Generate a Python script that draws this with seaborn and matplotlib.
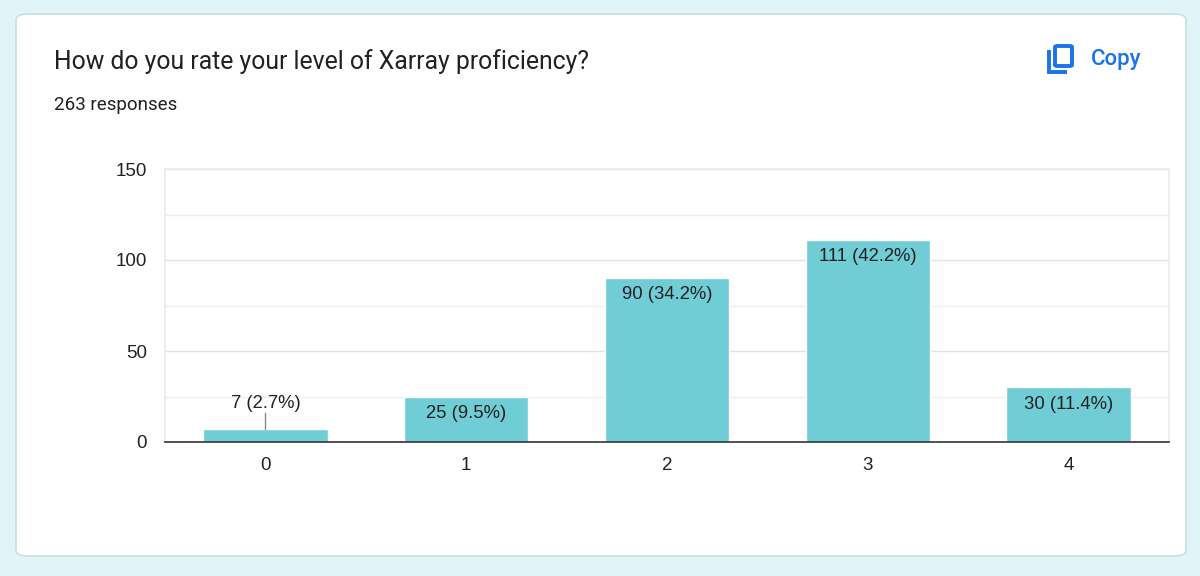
import matplotlib
matplotlib.use("Agg")
import matplotlib.pyplot as plt
from matplotlib.patches import FancyBboxPatch
from matplotlib.lines import Line2D
import seaborn as sns
import pandas as pd

categories = ["0", "1", "2", "3", "4"]
counts = [7, 25, 90, 111, 30]
percents = ["2.7%", "9.5%", "34.2%", "42.2%", "11.4%"]
yticks = [0, 50, 100, 150]

sns.set_theme(style="white")
plt.rcParams['font.family'] = ['Liberation Sans', 'DejaVu Sans']

fig = plt.figure(figsize=(12, 5.76), dpi=100)
fig.patch.set_facecolor("#e1f5f9")

card = FancyBboxPatch((16 / 1200, 1 - 556 / 576), 1170 / 1200, 542 / 576,
                      boxstyle="round,pad=0,rounding_size=0.01",
                      transform=fig.transFigure, facecolor="white",
                      edgecolor="#c9dfe3", linewidth=1.2, zorder=-10)
fig.patches.append(card)

fig.text(54 / 1200, 1 - 62 / 576, "How do you rate your level of Xarray proficiency?",
         fontsize=17.8, color="#202124", va="center", ha="left",
         family=["Roboto", "DejaVu Sans"])
fig.text(54 / 1200, 1 - 105 / 576, "263 responses", fontsize=13.5,
         color="#202124", va="center", ha="left", family=["Roboto", "DejaVu Sans"])
fig.text(1091 / 1200, 1 - 60 / 576, "Copy", fontsize=16, color="#1a73e8",
         va="center", ha="left", fontweight="medium", family=["Roboto", "DejaVu Sans"])
# copy icon
fig.patches.append(FancyBboxPatch((1055 / 1200, 1 - 66 / 576), 17 / 1200, 20 / 576,
                                  boxstyle="round,pad=0,rounding_size=0.002",
                                  transform=fig.transFigure, facecolor="none",
                                  edgecolor="#1a73e8", linewidth=2.8))
fig.lines.append(Line2D([1049 / 1200, 1049 / 1200, 1067 / 1200],
                        [1 - 50 / 576, 1 - 72 / 576, 1 - 72 / 576],
                        transform=fig.transFigure, color="#1a73e8", linewidth=2.8,
                        solid_joinstyle="miter", solid_capstyle="butt"))

ax = fig.add_axes([165 / 1200, 1 - 442 / 576, 1004 / 1200, 273 / 576])
ax.set_facecolor("white")
df = pd.DataFrame({"category": categories, "count": counts})
sns.barplot(data=df, x="category", y="count", color="#70cdd6", saturation=1,
            width=0.62, ax=ax, zorder=3)
ax.set_xlim(-0.5, 4.5)
ax.set_ylim(0, 150)
ax.set_yticks(yticks)
for y in [25, 50, 75, 100, 125, 150]:
    ax.axhline(y, color="#efefef" if y % 50 else "#e3e3e3", linewidth=1, zorder=1)
ax.set_xlabel("")
ax.set_ylabel("")
for s in ["top", "right", "left"]:
    ax.spines[s].set_color("#ececec")
ax.spines["bottom"].set_color("#333333")
ax.spines["bottom"].set_linewidth(1.2)
ax.spines["bottom"].set_zorder(4)
ax.tick_params(axis="both", length=0, labelsize=13.5, colors="#222222", pad=11)
ax.tick_params(axis="y", pad=13)

for i, (c, p) in enumerate(zip(counts, percents)):
    label = f"{c} ({p})"
    if c >= 20:
        ax.text(i, c - 4.5, label, ha="center", va="top", fontsize=13.3,
                color="#222222", zorder=5)
    else:
        ax.plot([i, i], [c, c + 9], color="#888888", linewidth=1, zorder=4)
        ax.text(i, c + 9.5, label, ha="center", va="bottom", fontsize=13.3,
                color="#222222", zorder=5)

fig.savefig("out.png", dpi=100, facecolor=fig.get_facecolor())
